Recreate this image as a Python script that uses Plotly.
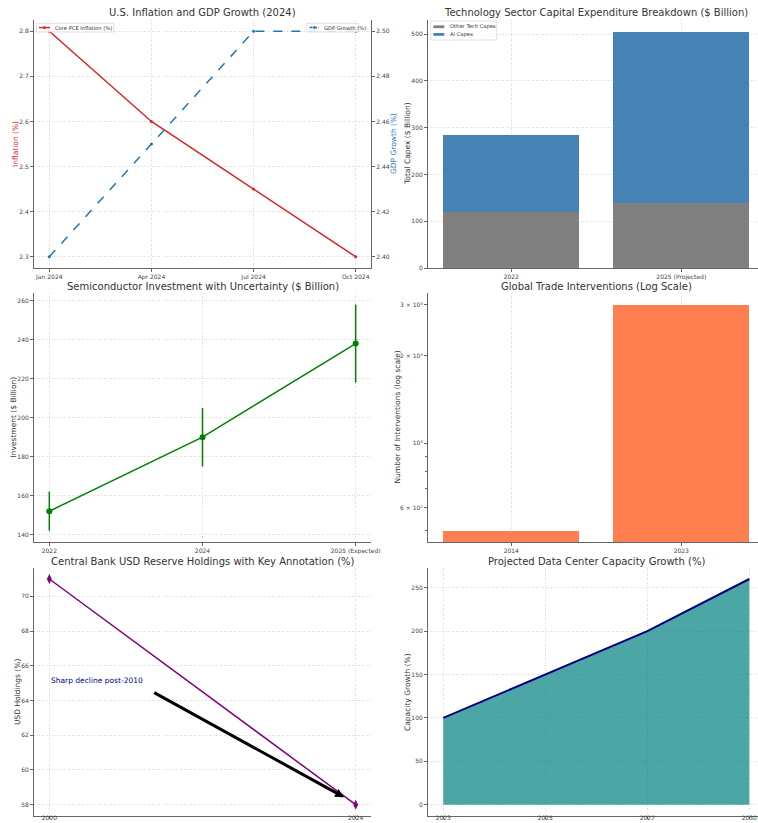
import plotly.graph_objects as go

# ---------------- data ----------------
months = ["Jan 2024", "Apr 2024", "Jul 2024", "Oct 2024"]
core_pce = [2.8, 2.6, 2.45, 2.3]
gdp_growth = [2.40, 2.45, 2.50, 2.50]

capex_years = ["2022", "2025 (Projected)"]
other_capex = [120, 140]
ai_capex = [165, 365]

semi_years = ["2022", "2024", "2025 (Expected)"]
semi_invest = [152, 190, 238]
semi_err = [10, 15, 20]

trade_years = ["2014", "2023"]
trade_interventions = [500, 3000]
log_tickvals = [600, 1000, 2000, 3000]
log_ticktext = ["6 × 10²", "10³", "2 × 10³", "3 × 10³"]

usd_years = [2000, 2024]
usd_share = [71, 58]

dc_years = ["2023", "2025", "2027", "2030"]
dc_growth = [100, 150, 200, 260]

# ---------------- layout helpers ----------------
W, H = 758, 823
FONT = "DejaVu Sans"
TICK = dict(size=6, color="#444", family=FONT)
GRID = "#d9d9d9"
GDASH = "1px,1.5px"
SPINE = "#666"


def px(x):
    return x / W


def py(y):
    return 1 - y / H


XL = [px(34), px(371)]
XR = [px(428), 1.0]
Y1 = [py(268), py(20)]
Y2 = [py(542), py(293.3)]
Y3 = [py(816), py(567.7)]


def ax(**kw):
    d = dict(showline=True, linecolor=SPINE, linewidth=1, ticks="outside",
             ticklen=3, tickcolor=SPINE, tickwidth=0.8, tickfont=TICK,
             showgrid=True, gridcolor=GRID, griddash=GDASH, gridwidth=0.8,
             zeroline=False, automargin=False)
    d.update(kw)
    return d


fig = go.Figure()

# 1. Inflation & GDP
fig.add_trace(go.Scatter(x=months, y=core_pce, name="Core PCE Inflation (%)",
                         mode="lines+markers", line=dict(color="#d62728", width=1.5),
                         marker=dict(size=3), xaxis="x", yaxis="y", showlegend=False))
fig.add_trace(go.Scatter(x=months, y=gdp_growth, name="GDP Growth (%)",
                         mode="lines+markers", line=dict(color="#1f77b4", width=1.5, dash="dash"),
                         marker=dict(size=3), xaxis="x", yaxis="y2", showlegend=False))

# 2. Capex stacked bars
fig.add_trace(go.Bar(x=capex_years, y=other_capex, name="Other Tech Capex",
                     marker=dict(color="#808080", line=dict(width=0)), width=0.8,
                     xaxis="x2", yaxis="y3", showlegend=False))
fig.add_trace(go.Bar(x=capex_years, y=ai_capex, name="AI Capex",
                     marker=dict(color="#4682b4", line=dict(width=0)), width=0.8,
                     xaxis="x2", yaxis="y3", showlegend=False))

# 3. Semiconductor with error bars
fig.add_trace(go.Scatter(x=semi_years, y=semi_invest, mode="lines+markers",
                         line=dict(color="green", width=1.5), marker=dict(size=6, color="green"),
                         error_y=dict(type="data", array=semi_err, color="green", thickness=1.5, width=0),
                         xaxis="x3", yaxis="y4", showlegend=False))

# 4. Log bars
fig.add_trace(go.Bar(x=trade_years, y=trade_interventions, marker=dict(color="#ff7f50", line=dict(width=0)),
                     width=0.8, xaxis="x4", yaxis="y5", showlegend=False))

# 5. USD reserves
fig.add_trace(go.Scatter(x=usd_years, y=usd_share, mode="lines+markers",
                         line=dict(color="purple", width=1.5),
                         marker=dict(symbol="diamond-tall", size=7, color="purple"),
                         xaxis="x5", yaxis="y6", showlegend=False))

# 6. Data center area
fig.add_trace(go.Scatter(x=dc_years, y=dc_growth, mode="lines", fill="tozeroy",
                         fillcolor="rgba(0,128,128,0.7)", line=dict(color="navy", width=2),
                         xaxis="x6", yaxis="y7", showlegend=False))

fig.update_layout(
    width=W, height=H, margin=dict(l=0, r=0, t=0, b=0),
    paper_bgcolor="white", plot_bgcolor="white",
    font=dict(family=FONT, color="#333"),
    barmode="stack", showlegend=False,
    xaxis=ax(domain=XL, anchor="y", type="category", range=[-0.15, 3.15]),
    yaxis=ax(domain=Y1, anchor="x", range=[2.275, 2.825], tickformat=".1f",
             tickvals=[2.3, 2.4, 2.5, 2.6, 2.7, 2.8]),
    yaxis2=ax(overlaying="y", anchor="x", side="right", range=[2.395, 2.505],
              tickformat=".2f", tickvals=[2.40, 2.42, 2.44, 2.46, 2.48, 2.50], showgrid=False),
    xaxis2=ax(domain=XR, anchor="y3", type="category", range=[-0.49, -0.49 + 330 / 170]),
    yaxis3=ax(domain=Y1, anchor="x2", range=[0, 530.25], tickvals=[0, 100, 200, 300, 400, 500]),
    xaxis3=ax(domain=XL, anchor="y4", type="category", range=[-0.1, 2.1]),
    yaxis4=ax(domain=Y2, anchor="x3", range=[136.2, 263.8], tickvals=[140, 160, 180, 200, 220, 240, 260]),
    xaxis4=ax(domain=XR, anchor="y5", type="category", range=[-0.49, -0.49 + 330 / 170]),
    yaxis5=ax(domain=Y2, anchor="x4", type="log", range=[2.660, 3.516], tickvals=log_tickvals,
              ticktext=log_ticktext, showgrid=False,
              minor=dict(tickvals=[500, 700, 800, 900], ticklen=2, tickcolor=SPINE, showgrid=False, ticks="outside")),
    xaxis5=ax(domain=XL, anchor="y6", range=[1998.8, 2025.2], tickvals=[2000, 2024],
              ticklen=2, ticklabelstandoff=-6),
    yaxis6=ax(domain=Y3, anchor="x5", range=[57.35, 71.65], tickvals=[58, 60, 62, 64, 66, 68, 70]),
    xaxis6=ax(domain=XR, anchor="y7", type="category", range=[-0.15, -0.15 + 330 / 102],
              ticklen=2, ticklabelstandoff=-6),
    yaxis7=ax(domain=Y3, anchor="x6", range=[-13, 273], tickvals=[0, 50, 100, 150, 200, 250]),
)

# gridline at 10^3 only on the log chart
fig.add_shape(type="line", xref="x4 domain", yref="y5", x0=0, x1=1, y0=3, y1=3,
              line=dict(color=GRID, width=0.8, dash=GDASH), layer="below")

# ---------------- manual compact legends ----------------
LEG_LINE = "#cccccc"


def legend_box(x0, y0, x1, y1):
    fig.add_shape(type="rect", xref="paper", yref="paper", x0=px(x0), x1=px(x1), y0=py(y1), y1=py(y0),
                  line=dict(color=LEG_LINE, width=0.6), fillcolor="rgba(255,255,255,0.85)", layer="above")


def legend_text(t, x, y):
    fig.add_annotation(text=t, x=px(x), y=py(y), xref="paper", yref="paper", showarrow=False,
                       xanchor="left", yanchor="middle", font=dict(size=5.2, color="#333", family=FONT))


# Core PCE legend
legend_box(36.5, 23.3, 114, 32)
fig.add_shape(type="line", xref="paper", yref="paper", x0=px(39), x1=px(50), y0=py(27.6), y1=py(27.6),
              line=dict(color="#d62728", width=1.5), layer="above")
fig.add_shape(type="circle", xref="paper", yref="paper", x0=px(43.3), x1=px(45.7), y0=py(28.8), y1=py(26.4),
              line=dict(color="#d62728", width=0.5), fillcolor="#d62728", layer="above")
legend_text("Core PCE Inflation (%)", 53, 27.6)

# GDP legend
legend_box(306.7, 23.3, 358.3, 32)
fig.add_shape(type="line", xref="paper", yref="paper", x0=px(309.5), x1=px(319), y0=py(27.6), y1=py(27.6),
              line=dict(color="#1f77b4", width=1.5, dash="3px,1.5px"), layer="above")
fig.add_shape(type="circle", xref="paper", yref="paper", x0=px(313.2), x1=px(315.6), y0=py(28.8), y1=py(26.4),
              line=dict(color="#1f77b4", width=0.5), fillcolor="#1f77b4", layer="above")
legend_text("GDP Growth (%)", 321.5, 27.6)

# Capex legend
legend_box(430.7, 21, 496.7, 40)
fig.add_shape(type="rect", xref="paper", yref="paper", x0=px(433.3), x1=px(444.3), y0=py(28.2), y1=py(25.4),
              line=dict(width=0), fillcolor="#808080", layer="above")
fig.add_shape(type="rect", xref="paper", yref="paper", x0=px(433.3), x1=px(444.3), y0=py(35.8), y1=py(33),
              line=dict(width=0), fillcolor="#4682b4", layer="above")
legend_text("Other Tech Capex", 447.5, 26.8)
legend_text("AI Capex", 447.5, 34.4)

# titles
titles = [
    ("U.S. Inflation and GDP Growth (2024)", 202.5, 13),
    ("Technology Sector Capital Expenditure Breakdown ($ Billion)", 596, 13),
    ("Semiconductor Investment with Uncertainty ($ Billion)", 202.5, 287),
    ("Global Trade Interventions (Log Scale)", 596, 287),
    ("Central Bank USD Reserve Holdings with Key Annotation (%)", 202.5, 561),
    ("Projected Data Center Capacity Growth (%)", 596, 561),
]
for t, x, y in titles:
    fig.add_annotation(text=t, x=px(x), y=py(y), xref="paper", yref="paper",
                       showarrow=False, font=dict(size=10, color="#333", family=FONT),
                       xanchor="center", yanchor="middle")

# axis titles
ytitles = [
    ("Inflation (%)", 15, 144, "#d62728"),
    ("GDP Growth (%)", 393, 144, "#1f77b4"),
    ("Total Capex ($ Billion)", 407, 144, "#333"),
    ("Investment ($ Billion)", 13, 417.5, "#333"),
    ("Number of Interventions (log scale)", 397, 417.5, "#333"),
    ("USD Holdings (%)", 17, 692, "#333"),
    ("Capacity Growth (%)", 407, 692, "#333"),
]
for t, x, y, c in ytitles:
    fig.add_annotation(text=t, x=px(x), y=py(y), xref="paper", yref="paper",
                       showarrow=False, textangle=-90, font=dict(size=7.5, color=c, family=FONT),
                       xanchor="center", yanchor="middle")

# key annotation
fig.add_annotation(text="Sharp decline post-2010", x=2000, y=65.14, xref="x5", yref="y6",
                   showarrow=False, xanchor="left", yanchor="middle",
                   font=dict(size=7.5, color="darkblue", family=FONT))
fig.add_annotation(text="", x=2023.1, y=58.43, xref="x5", yref="y6",
                   ax=2008.1, ay=64.5, axref="x5", ayref="y6",
                   showarrow=True, arrowhead=2, arrowsize=0.6, arrowwidth=3, arrowcolor="black",
                   standoff=0, startstandoff=0)

fig.write_html("out.html", config={"displayModeBar": False},
               post_script="document.body.style.margin='0';document.body.style.overflow='hidden';")
